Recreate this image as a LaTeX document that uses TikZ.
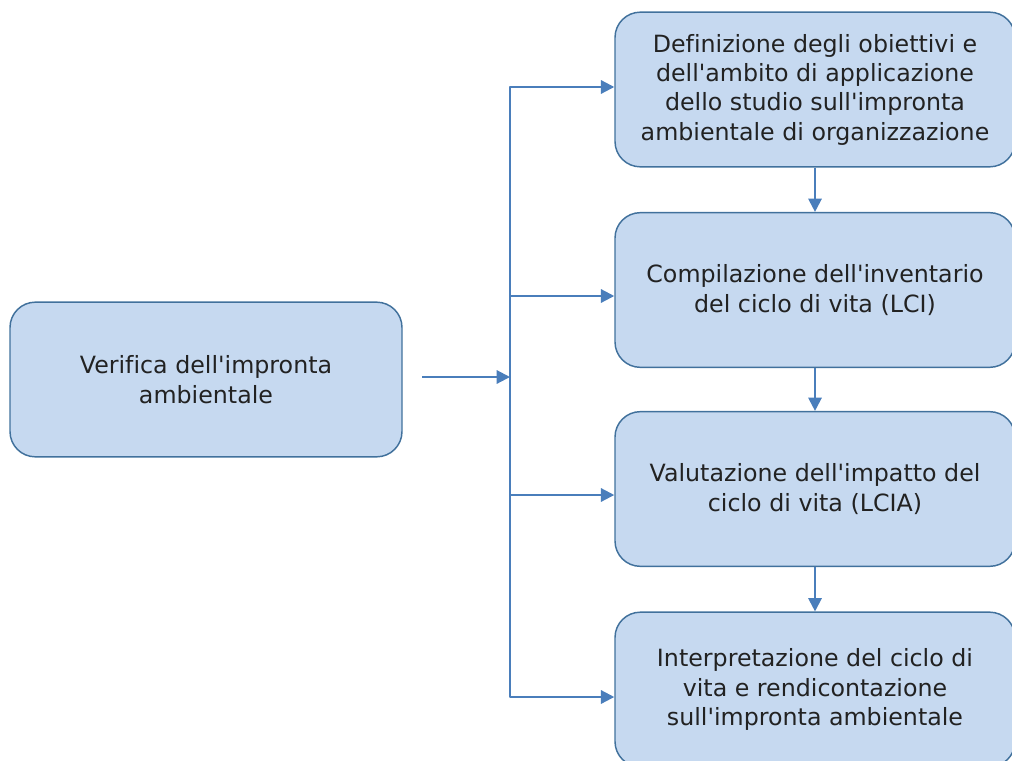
\documentclass[tikz,border=0pt]{standalone}
\usepackage{fontspec}
\newfontfamily\boxfont{DejaVu Sans}[Ligatures=CommonOff]
\usepackage{tikz}
\usetikzlibrary{positioning}
\usetikzlibrary{arrows.meta}
\definecolor{boxfill}{HTML}{C6D9F0}
\definecolor{boxline}{HTML}{41719C}
\definecolor{arrowblue}{HTML}{4A7EBB}
\definecolor{boxtext}{HTML}{222222}

\begin{document}
\begin{tikzpicture}[x=0.75pt,y=-0.75pt,line join=round,>={Triangle[length=10pt,width=10pt]},
  fase/.style={draw=boxline,line width=1.1pt,fill=boxfill,rounded corners=19pt,minimum width=300pt,minimum height=116pt,inner sep=0pt,align=center,text=boxtext,font=\boxfont\fontsize{17.8}{22}\selectfont},
  freccia/.style={->,draw=arrowblue,line width=1.6pt}]
\clip (0,0) rectangle (1012,760);
% fasi dello studio
\node[fase] (def) at (815,89.5) {Definizione degli obiettivi e\\dell'ambito di applicazione\\dello studio sull'impronta\\ambientale di organizzazione};
\node[fase] (comp) at (815,290) {Compilazione dell'inventario\\del ciclo di vita (LCI)};
\node[fase] (val) at (815,489) {Valutazione dell'impatto del\\ciclo di vita (LCIA)};
\node[fase] (interp) at (815,689.5) {Interpretazione del ciclo di\\vita e rendicontazione\\sull'impronta ambientale};
\node[fase,minimum width=294pt] (verif) at (206,379.5) {Verifica dell'impronta\\ambientale};
% collettore
\coordinate (r1) at (510,87);
\coordinate (r2) at (510,296);
\coordinate (r3) at (510,495);
\coordinate (r4) at (510,697);
\coordinate (hub) at (510,377);
\coordinate (src) at (422,377);
\draw[freccia] (r4) -- (r1) -- (r1 -| def.west);
\draw[freccia] (r1) -- (r4) -- (r4 -| interp.west);
\draw[freccia] (r2) -- (r2 -| comp.west);
\draw[freccia] (r3) -- (r3 -| val.west);
\draw[freccia] (src) -- (hub);
% sequenza
\draw[freccia] (def.south) -- (comp.north);
\draw[freccia] (comp.south) -- (val.north);
\draw[freccia] (val.south) -- (interp.north);
\end{tikzpicture}
\end{document}
